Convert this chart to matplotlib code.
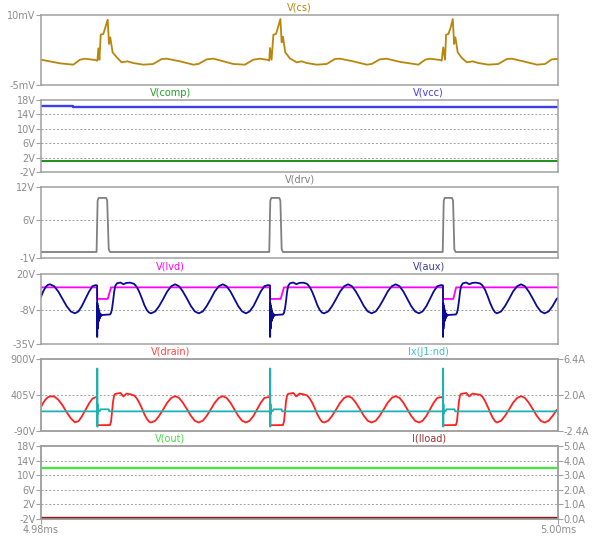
import matplotlib
matplotlib.use("Agg")
import matplotlib.pyplot as plt

plt.rcParams['font.family'] = ['DejaVu Sans']
FS = 7.0

# ---------------- data (time in microseconds after 4.98 ms) ----------------
x_tick_labels = ['4.98ms', '5.00ms']

cs_t = [0.00, 0.74, 1.25, 1.51, 1.70, 2.09, 2.18, 2.22, 2.26, 2.31, 2.41, 2.49, 2.58, 2.63, 2.68,
        2.77, 2.93, 3.12, 3.34, 3.57, 3.96, 4.34, 4.67, 4.86, 5.38, 5.89, 6.09, 6.41, 6.67, 6.92,
        7.44, 7.89, 8.21, 8.47, 8.79, 8.83, 8.86, 8.92, 8.99, 9.09, 9.17, 9.26, 9.31, 9.36, 9.45,
        9.63, 9.89, 10.09, 10.28, 10.67, 11.05, 11.37, 11.57, 12.08, 12.60, 12.79, 13.11, 13.37,
        13.89, 14.60, 14.86, 15.05, 15.44, 15.50, 15.56, 15.63, 15.67, 15.76, 15.85, 15.93, 15.98,
        16.03, 16.12, 16.27, 16.47, 16.70, 16.92, 17.30, 17.69, 18.02, 18.21, 18.66, 19.18, 19.50,
        19.76, 19.95, 20.00]
cs_mv = [0.42, -0.36, -0.64, 0.42, 0.64, 0.36, 0.21, 2.86, 0.42, 5.78, 5.93, 7.36, 9.0, 3.79, 5.21,
         2.0, 0.93, -0.14, 0.07, -0.29, -0.64, -0.5, 0.57, 0.64, 0.07, -0.64, -0.5, 0.5, 0.64, 0.29,
         -0.5, -0.64, 0.42, 0.64, 0.36, 0.21, 2.93, 0.42, 5.78, 5.93, 7.36, 9.14, 4.14, 5.36, 2.0,
         0.7, -0.14, 0.07, -0.29, -0.64, -0.5, 0.57, 0.64, 0.07, -0.64, -0.5, 0.5, 0.64,
         -0.05, -0.64, 0.42, 0.64, 0.36, 0.21, 3.07, 0.42, 5.78, 5.93, 7.36, 9.14, 3.79,
         5.21, 2.0, 0.86, -0.14, 0.07, -0.29, -0.64, -0.5, 0.57, 0.64, 0.07, -0.64, -0.5,
         0.5, 0.57, 0.55]

vcc_t = [0.0, 1.24, 1.24, 20.0]
vcc_v = [16.3, 16.3, 16.1, 16.1]
comp_t = [0.0, 20.0]
comp_v = [1.0, 1.0]

drv_t = [0.0, 2.15, 2.19, 2.23, 2.52, 2.56, 2.62, 2.67,
         8.83, 8.87, 8.91, 9.22, 9.26, 9.31, 9.36,
         15.54, 15.58, 15.62, 15.90, 15.94, 15.99, 16.04, 20.0]
drv_v = [0.1, 0.1, 9.5, 10.0, 10.0, 9.5, 0.6, 0.1,
         0.1, 9.5, 10.0, 10.0, 9.5, 0.6, 0.1,
         0.1, 9.5, 10.0, 10.0, 9.5, 0.6, 0.1, 0.1]

lvd_t = [0.0, 2.17, 2.175, 2.58, 2.71, 8.86, 8.865, 9.27, 9.40, 15.55, 15.555, 15.95, 16.06, 20.0]
lvd_v = [9.5, 9.5, 0.4, 0.4, 9.5, 9.5, 0.4, 0.4, 9.5, 9.5, 0.4, 0.4, 9.5, 9.5]

# switching-node waveforms (V(aux) and V(drain) share the time points)
sw_t_pre = [0.00, 0.09, 0.18, 0.27, 0.35, 0.51, 0.67, 0.83, 0.99, 1.15, 1.31, 1.45, 1.58, 1.72,
            1.86, 1.99, 2.12]
sw_t_c1 = [2.170, 2.174, 2.182, 2.190, 2.200, 2.210, 2.222, 2.235, 2.250, 2.270, 2.295, 2.330, 2.370,
           2.67, 2.71, 2.75, 2.79, 2.83, 2.87, 2.94, 3.07, 3.19, 3.31, 3.45,
           3.60, 3.70, 3.80, 3.90, 4.00, 4.10, 4.18,
           4.26, 4.42, 4.57, 4.73, 4.88, 5.04,
           5.19, 5.34, 5.49, 5.65, 5.80, 5.95,
           6.10, 6.26, 6.41, 6.57, 6.72, 6.88,
           7.03, 7.18, 7.33, 7.48, 7.63, 7.78,
           7.93, 8.07, 8.22, 8.36, 8.50, 8.64,
           8.79]
sw_t_c2 = [8.860, 8.864, 8.872, 8.880, 8.890, 8.900, 8.912, 8.925, 8.940, 8.960, 8.985, 9.020, 9.060,
           9.36, 9.40, 9.44, 9.48, 9.52, 9.56, 9.63, 9.76, 9.88, 10.00, 10.14,
           10.29, 10.39, 10.49, 10.59, 10.69, 10.79, 10.87,
           10.95, 11.11, 11.26, 11.42, 11.57, 11.73,
           11.88, 12.03, 12.18, 12.34, 12.49, 12.64,
           12.79, 12.95, 13.10, 13.26, 13.41, 13.57,
           13.72, 13.87, 14.02, 14.17, 14.32, 14.47,
           14.62, 14.76, 14.91, 15.05, 15.19, 15.33,
           15.48]
sw_t_c3 = [15.550, 15.554, 15.562, 15.570, 15.580, 15.590, 15.602, 15.615, 15.630, 15.650, 15.675,
           15.710, 15.750,
           16.05, 16.09, 16.13, 16.17, 16.21, 16.25, 16.32, 16.45, 16.57, 16.69, 16.83,
           16.98, 17.08, 17.18, 17.28, 17.38, 17.48, 17.56,
           17.64, 17.80, 17.95, 18.11, 18.26, 18.42,
           18.57, 18.72, 18.87, 19.03, 19.18, 19.33,
           19.48, 19.64, 19.79, 19.95, 20.00]

aux_pre = [2.2, 6.5, 9.8, 11.5, 11.9, 10.4, 6.2, 0.5, -5.2, -9.4, -10.9, -9.4, -5.2, 0.5,
           6.2, 10.4, 11.3]
aux_c1 = [11.0, -29.5, -3, -23, -5, -20, -7, -17, -9, -15, -11, -13, -12.2,
          -11.8, -10.5, -7, -1, 6, 10.5, 12.7, 13.3, 12.0, 13.0, 13.2,
          12.3, 10.0, 6.0, 1.0, -4.5, -8.5, -10.3,
          -10.9, -9.4, -5.2, 0.5, 6.2, 10.4,
          11.9, 10.4, 6.2, 0.5, -5.2, -9.4,
          -10.9, -9.4, -5.2, 0.5, 6.2, 10.4,
          11.9, 10.4, 6.2, 0.5, -5.2, -9.4,
          -10.9, -9.4, -5.2, 0.5, 6.2, 10.4,
          11.3]
aux_c2 = [11.0, -29.5, -3, -23, -5, -20, -7, -17, -9, -15, -11, -13, -12.2,
          -11.8, -10.5, -7, -1, 6, 10.5, 12.7, 13.3, 12.0, 13.0, 13.2,
          12.3, 10.0, 6.0, 1.0, -4.5, -8.5, -10.3,
          -10.9, -9.4, -5.2, 0.5, 6.2, 10.4,
          11.9, 10.4, 6.2, 0.5, -5.2, -9.4,
          -10.9, -9.4, -5.2, 0.5, 6.2, 10.4,
          11.9, 10.4, 6.2, 0.5, -5.2, -9.4,
          -10.9, -9.4, -5.2, 0.5, 6.2, 10.4,
          11.3]
aux_c3 = [11.0, -29.5, -3, -23, -5, -20, -7, -17, -9, -15, -11, -13, -12.2,
          -11.8, -10.5, -7, -1, 6, 10.5, 12.7, 13.3, 12.0, 13.0, 13.2,
          12.6, 11.0, 7.5, 2.5, -3.0, -7.5, -10.0,
          -10.9, -9.4, -5.2, 0.5, 6.2, 10.4,
          11.9, 10.4, 6.2, 0.5, -5.2, -9.4,
          -10.9, -9.4, -5.2, 0.5, 1.2]

drain_pre = [240, 300, 345, 375, 386, 385, 340, 265, 170, 85, 30, 45, 110, 200, 290, 355, 375]
drain_c1 = [375, -10, -10, -10, -10, -10, -10, -10, -10, -10, -10, -10, -10,
            -8, 40, 180, 320, 400, 420, 425, 433, 385, 425, 415,
            400, 360, 300, 225, 140, 75, 38,
            27, 51, 118, 208, 298, 365,
            389, 365, 298, 208, 118, 51,
            27, 51, 118, 208, 298, 365,
            389, 365, 298, 208, 118, 51,
            27, 51, 118, 208, 298, 365,
            375]
drain_c2 = [375, -10, -10, -10, -10, -10, -10, -10, -10, -10, -10, -10, -10,
            -8, 40, 180, 320, 400, 420, 425, 433, 385, 425, 415,
            400, 360, 300, 225, 140, 75, 38,
            27, 51, 118, 208, 298, 365,
            389, 365, 298, 208, 118, 51,
            27, 51, 118, 208, 298, 365,
            389, 365, 298, 208, 118, 51,
            27, 51, 118, 208, 298, 365,
            375]
drain_c3 = [375, -10, -10, -10, -10, -10, -10, -10, -10, -10, -10, -10, -10,
            -8, 40, 180, 320, 400, 420, 425, 433, 385, 425, 415,
            410, 380, 320, 245, 160, 90, 45,
            27, 51, 118, 208, 298, 365,
            389, 365, 298, 208, 118, 51,
            27, 51, 118, 200, 190]

ix_t = [0.0, 2.175, 2.177, 2.181, 2.185, 2.195, 2.21, 2.28, 2.30, 2.62, 2.64,
        8.865, 8.867, 8.871, 8.875, 8.885, 8.90, 8.97, 8.99, 9.31, 9.33,
        15.555, 15.557, 15.561, 15.565, 15.575, 15.59, 15.66, 15.68, 16.00, 16.02, 20.0]
ix_a = [0.0, 0.0, 5.24, -1.87, 0.9, -0.3, 0.05, 0.05, 0.25, 0.25, 0.0,
        0.0, 5.24, -1.87, 0.9, -0.3, 0.05, 0.05, 0.25, 0.25, 0.0,
        0.0, 5.24, -1.87, 0.9, -0.3, 0.05, 0.05, 0.25, 0.25, 0.0, 0.0]

out_t = [0.0, 20.0]
out_v = [12.0, 12.0]
iload_t = [0.0, 20.0]
iload_a = [0.04, 0.04]

sw_t = sw_t_pre + sw_t_c1 + sw_t_c2 + sw_t_c3
aux_v = aux_pre + aux_c1 + aux_c2 + aux_c3
drain_v = drain_pre + drain_c1 + drain_c2 + drain_c3

# ---------------- layout ----------------
W, H = 592, 540
X0, X1 = 41, 558
boxes = [(15, 85), (100, 172), (187, 258), (274, 344), (359, 431), (446, 519)]

FRAME = '#a0a0a0'
TICKC = '#8c8c8c'

fig = plt.figure(figsize=(W / 100, H / 100), dpi=100)
fig.patch.set_facecolor('white')


def make_ax(box):
    top, bot = box
    return fig.add_axes([X0 / W, 1 - bot / H, (X1 - X0) / W, (bot - top) / H])


def style(ax, lim, ticks, labels, side='left', grid=True):
    ax.set_xlim(0, 20)
    ax.set_ylim(*lim)
    ax.set_yticks(ticks)
    ax.set_yticklabels(labels)
    ax.set_xticks([])
    for s in ax.spines.values():
        s.set_color(FRAME)
        s.set_linewidth(1.1)
        s.set_zorder(5)
    ax.tick_params(axis='y', direction='out', length=3.5, width=0.8, color=FRAME,
                   labelcolor=TICKC, labelsize=FS, pad=0.5,
                   left=(side == 'left'), labelleft=(side == 'left'),
                   right=(side == 'right'), labelright=(side == 'right'))
    if grid:
        for v in ticks:
            if lim[0] < v < lim[1]:
                ax.axhline(v, color='#a0a0a0', linestyle=(0, (2, 2)), linewidth=0.7, zorder=0.5)


def title(ax, text, frac, color):
    ax.annotate(text, xy=(frac, 1.0), xycoords='axes fraction', xytext=(0, 1.5),
                textcoords='offset points', ha='center', va='bottom', fontsize=FS, color=color)


LW = 1.3

# Panel 1: V(cs)
ax1 = make_ax(boxes[0])
style(ax1, (-5, 10), [-5, 10], ['-5mV', '10mV'], grid=False)
ax1.plot(cs_t, cs_mv, color='#b8860b', lw=LW)
title(ax1, 'V(cs)', 0.5, '#b8860b')

# Panel 2: V(comp), V(vcc)
ax2 = make_ax(boxes[1])
t2 = [-2, 2, 6, 10, 14, 18]
style(ax2, (-2, 18), t2, [f'{v}V' for v in t2])
ax2.plot(vcc_t, vcc_v, color='#3c3cf0', lw=LW + 0.4)
ax2.plot(comp_t, comp_v, color='#0a8a0a', lw=LW)
title(ax2, 'V(comp)', 0.25, '#22a022')
title(ax2, 'V(vcc)', 0.75, '#3c3cf0')

# Panel 3: V(drv)
ax3 = make_ax(boxes[2])
style(ax3, (-1, 12), [-1, 6, 12], ['-1V', '6V', '12V'])
ax3.plot(drv_t, drv_v, color='#808080', lw=LW)
title(ax3, 'V(drv)', 0.5, '#808080')

# Panel 4: V(lvd), V(aux)
ax4 = make_ax(boxes[3])
style(ax4, (-35, 20), [-35, -8, 20], ['-35V', '-8V', '20V'])
ax4.plot(lvd_t, lvd_v, color='#ff00ff', lw=LW)
ax4.plot(sw_t, aux_v, color='#0a0a96', lw=LW)
title(ax4, 'V(lvd)', 0.25, '#ff00ff')
title(ax4, 'V(aux)', 0.75, '#3a3aa8')

# Panel 5: V(drain), Ix(J1:nd)
ax5 = make_ax(boxes[4])
style(ax5, (-90, 900), [-90, 405, 900], ['-90V', '405V', '900V'])
ax5.plot(sw_t, drain_v, color='#ff2020', lw=LW)
ax5r = ax5.twinx()
style(ax5r, (-2.4, 6.4), [-2.4, 2.0, 6.4], ['-2.4A', '2.0A', '6.4A'], side='right', grid=False)
ax5r.plot(ix_t, ix_a, color='#20b0b0', lw=LW)
title(ax5, 'V(drain)', 0.25, '#ff4444')
title(ax5, 'Ix(J1:nd)', 0.75, '#40c0c0')

# Panel 6: V(out), I(Iload)
ax6 = make_ax(boxes[5])
style(ax6, (-2, 18), t2, [f'{v}V' for v in t2])
ax6.plot(out_t, out_v, color='#40e840', lw=LW + 0.3)
ax6r = ax6.twinx()
ta = [0, 1, 2, 3, 4, 5]
style(ax6r, (0, 5), ta, [f'{v:.1f}A' for v in ta], side='right', grid=False)
ax6r.plot(iload_t, iload_a, color='#8b1a1a', lw=LW + 0.4)
title(ax6, 'V(out)', 0.25, '#40e040')
title(ax6, 'I(Iload)', 0.75, '#a03030')
ax6.set_xticks([0, 20])
ax6.set_xticklabels(x_tick_labels)
ax6.tick_params(axis='x', direction='out', length=3.5, width=0.8, color=FRAME,
                labelcolor=TICKC, labelsize=FS, pad=1, bottom=True, labelbottom=True)

fig.savefig('out.png', dpi=100, facecolor='white')
